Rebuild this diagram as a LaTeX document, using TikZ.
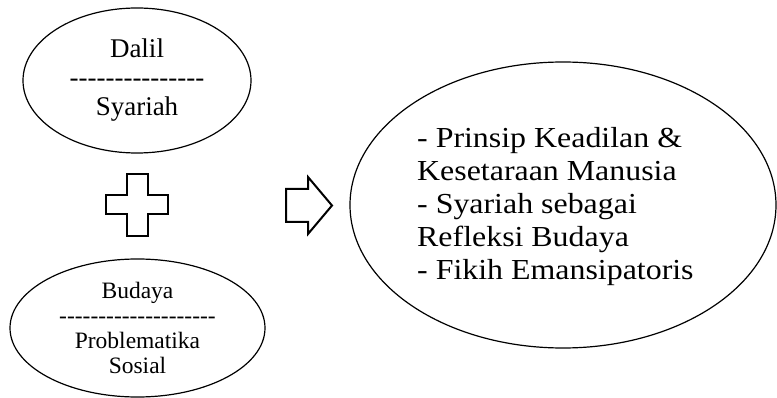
\documentclass[tikz,border=0pt]{standalone}
\usepackage{fontspec}
\setmainfont{Liberation Serif}[Ligatures=TeXOff]
\newfontfamily\wideserif{Liberation Serif}[FakeStretch=1.1, Ligatures=TeXOff]
\usetikzlibrary{shapes.geometric}

\begin{document}
\begin{tikzpicture}[x=1pt, y=-1pt,
    bubble/.style={draw, ellipse, line width=1.2pt, inner sep=0pt, align=center},
    outline/.style={draw, line width=2pt, line join=miter}]
    \useasboundingbox (0,0) rectangle (777,398);
    % the two sources
    \node (dalil) at (137,80.5) [bubble, minimum width=228, minimum height=145,
      font=\fontsize{27}{29}\selectfont] {Dalil\\---------------\\Syariah};
    \node (budaya) at (137.5,328) [bubble, minimum width=255, minimum height=138,
      font=\fontsize{23.5}{25}\selectfont] {Budaya\\--------------------\\Problematika\\Sosial};
    % plus sign and arrow
    \draw[outline] (127,174) -- (148,174) -- (148,195) -- (168,195) -- (168,214)
      -- (148,214) -- (148,236) -- (127,236) -- (127,214) -- (106,214)
      -- (106,195) -- (127,195) -- cycle;
    \draw[outline] (286,189) -- (308,189) -- (308,177) -- (332,205.5)
      -- (308,234) -- (308,222) -- (286,222) -- cycle;
    % the result
    \node (result) at (563,205) [bubble, minimum width=426, minimum height=286] {};
    \node (points) at (417,207) [anchor=west, align=left, inner sep=0pt,
      font=\wideserif\fontsize{29}{33}\selectfont]
      {- Prinsip Keadilan \&\\Kesetaraan Manusia\\- Syariah sebagai\\Refleksi Budaya\\- Fikih Emansipatoris};
\end{tikzpicture}
\end{document}
